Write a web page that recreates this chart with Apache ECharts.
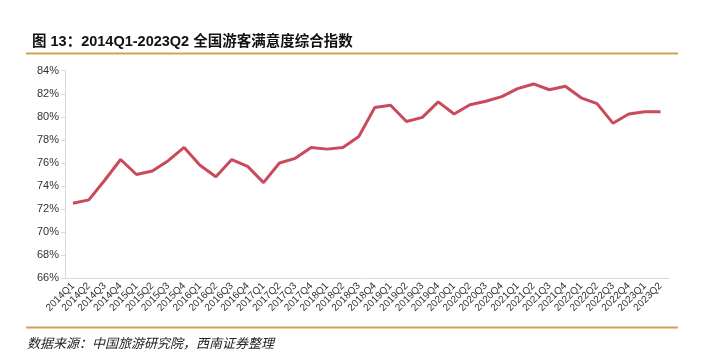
<!DOCTYPE html>
<html>
<head>
<meta charset="utf-8">
<style>html,body{margin:0;padding:0;background:#fff;}#c{width:713px;height:362px;}</style>
<script src="https://cdn.jsdelivr.net/npm/echarts@6/dist/echarts.min.js"></script>
</head>
<body>
<div id="c"></div>
<script>
var categories = ['2014Q1','2014Q2','2014Q3','2014Q4','2015Q1','2015Q2','2015Q3','2015Q4','2016Q1','2016Q2','2016Q3','2016Q4','2017Q1','2017Q2','2017Q3','2017Q4','2018Q1','2018Q2','2018Q3','2018Q4','2019Q1','2019Q2','2019Q3','2019Q4','2020Q1','2020Q2','2020Q3','2020Q4','2021Q1','2021Q2','2021Q3','2021Q4','2022Q1','2022Q2','2022Q3','2022Q4','2023Q1','2023Q2'];
var satisfaction = [72.5,72.8,74.5,76.3,75.0,75.3,76.2,77.35,75.8,74.8,76.3,75.7,74.3,76.0,76.4,77.35,77.2,77.35,78.3,80.8,81.0,79.6,79.95,81.3,80.25,81.05,81.35,81.75,82.45,82.85,82.35,82.65,81.65,81.15,79.45,80.25,80.45,80.45];
var titleText = '图 13：2014Q1-2023Q2 全国游客满意度综合指数';
var sourceText = '数据来源：中国旅游研究院，西南证券整理';

var chart = echarts.init(document.getElementById('c'), null, {renderer:'canvas'});
chart.setOption({
  animation: false,
  backgroundColor: '#fff',
  title: {
    text: titleText,
    left: 27, top: 30,
    textStyle: {fontFamily: '"Liberation Sans", "Noto Sans CJK SC"', fontSize: 14.5, fontWeight: 'bold', color: '#111'}
  },
  graphic: [
    {type:'line', shape:{x1:26,y1:53.5,x2:678,y2:53.5}, style:{stroke:'#D3A24F', lineWidth:2}},
    {type:'line', shape:{x1:26,y1:327.5,x2:678,y2:327.5}, style:{stroke:'#D3A24F', lineWidth:2}},
    {type:'text', left:27, top:337, style:{text: sourceText, font:'italic 13px "Noto Sans CJK SC"', fill:'#222'}}
  ],
  grid: {left: 65, right: 44.5, top: 70.7, bottom: 83.7, containLabel: false},
  xAxis: {
    type: 'category',
    data: categories,
    boundaryGap: true,
    axisLine: {lineStyle: {color: '#D9D9D9', width: 1}},
    axisTick: {show: false},
    axisLabel: {rotate: 45, interval: 0, fontSize: 10, color: '#333', fontFamily: 'Liberation Sans', margin: 6}
  },
  yAxis: {
    type: 'value',
    min: 66, max: 84, interval: 2,
    axisLine: {show: true, lineStyle: {color: '#D9D9D9'}},
    axisTick: {show: true, length: 4, lineStyle: {color: '#D9D9D9'}},
    splitLine: {show: false},
    axisLabel: {formatter: '{value}%', fontSize: 11, color: '#333', fontFamily: 'Liberation Sans', margin: 6}
  },
  series: [{
    type: 'line',
    data: satisfaction,
    symbol: 'none',
    lineStyle: {color: '#C94A5B', width: 3}
  }]
});
</script>
</body>
</html>
